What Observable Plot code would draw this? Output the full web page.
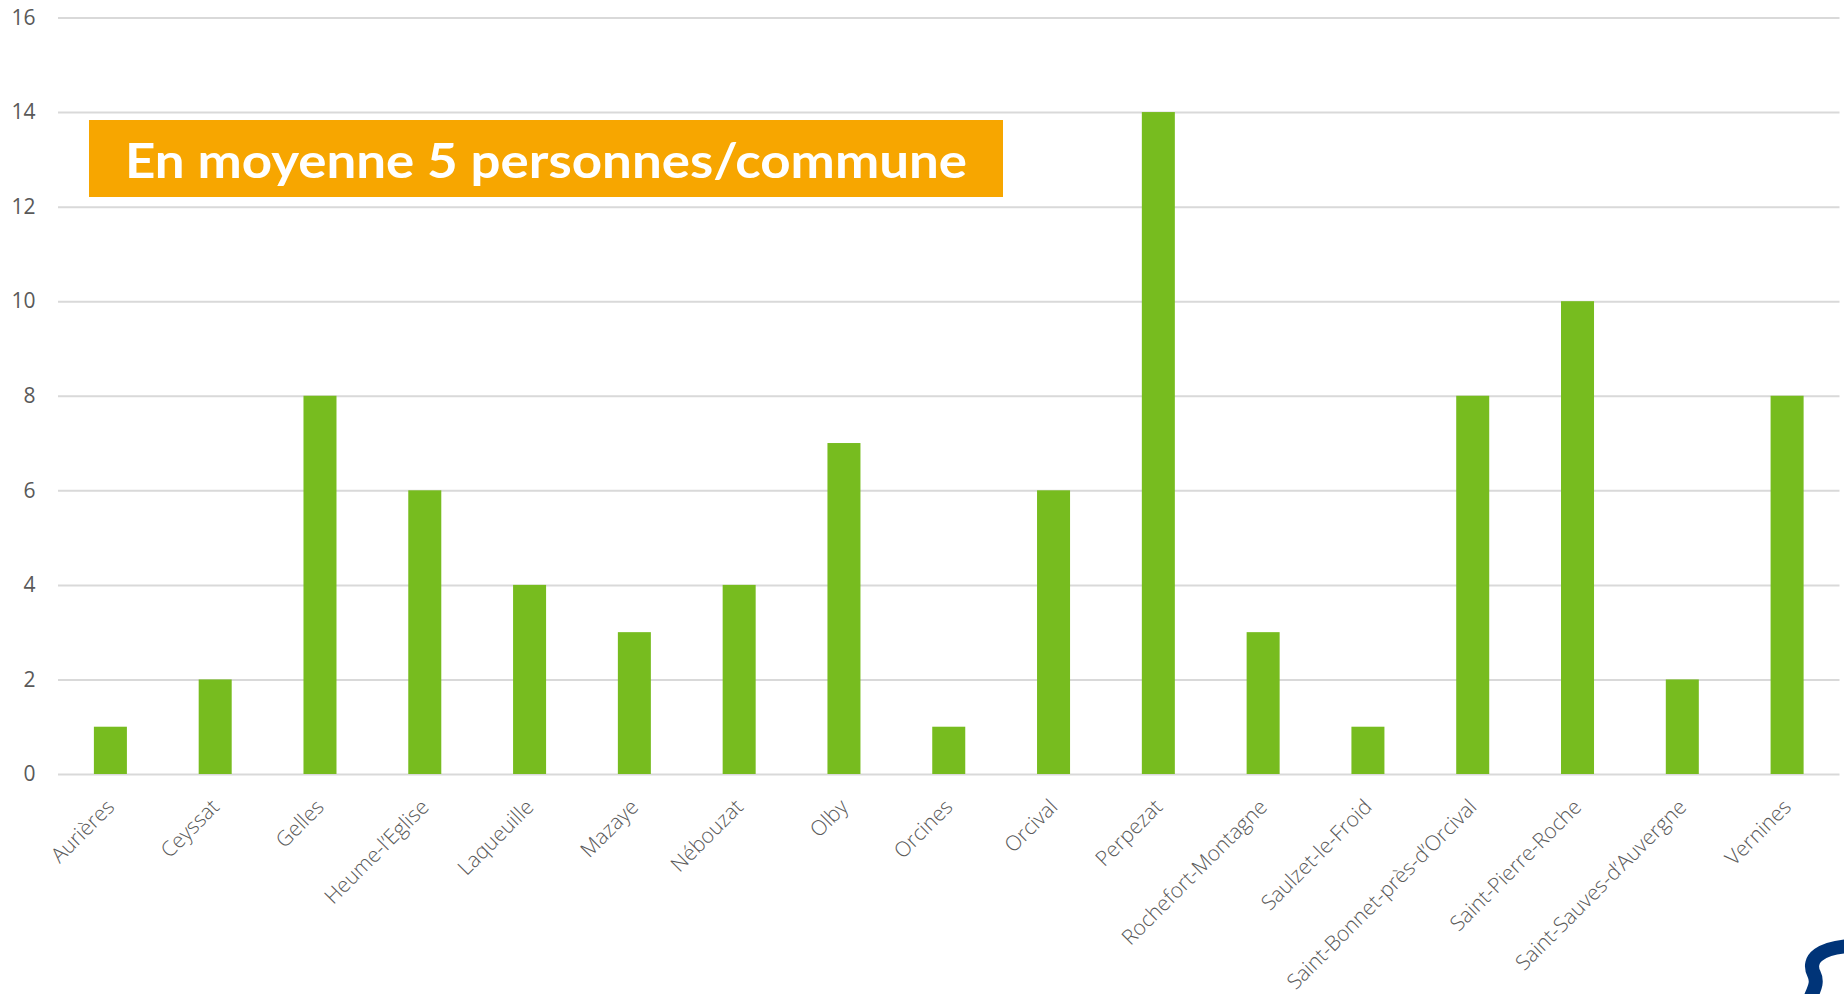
<!DOCTYPE html>
<html>
<head>
<meta charset="utf-8">
<script src="https://cdn.jsdelivr.net/npm/d3@7"></script>
<script src="https://cdn.jsdelivr.net/npm/@observablehq/plot@0.6"></script>
<style>
  html, body { margin: 0; padding: 0; background: #fff; }
  #chart { width: 1844px; height: 994px; overflow: hidden; }
</style>
</head>
<body>
<div id="chart"></div>
<script>
const communes = ["Aurières", "Ceyssat", "Gelles", "Heume-l’Eglise", "Laqueuille", "Mazaye", "Nébouzat", "Olby", "Orcines", "Orcival", "Perpezat", "Rochefort-Montagne", "Saulzet-le-Froid", "Saint-Bonnet-près-d’Orcival", "Saint-Pierre-Roche", "Saint-Sauves-d’Auvergne", "Vernines"];
const personnes = [1, 2, 8, 6, 4, 3, 4, 7, 1, 6, 14, 3, 1, 8, 10, 2, 8];
const yTicks = [0, 2, 4, 6, 8, 10, 12, 14, 16];
const bannerText = "En moyenne 5 personnes/commune";

const data = communes.map((c, i) => ({commune: c, value: personnes[i]}));

const W = 1844, H = 994;
const plot = Plot.plot({
  width: W,
  height: H,
  marginLeft: 58,
  marginRight: 4.5,
  marginTop: 17.5,
  marginBottom: 220,
  style: {fontFamily: "'Open Sans', sans-serif", background: "#fff", overflow: "visible"},
  x: {domain: communes, paddingInner: 0.685, paddingOuter: 0.3425, round: false, label: null},
  y: {domain: [0, 16], label: null},
  marks: [
    Plot.gridY(yTicks, {stroke: "#d9d9d9", strokeOpacity: 1, strokeWidth: 2}),
    Plot.barY(data, {x: "commune", y: "value", fill: "#77bc1f"}),
    Plot.axisY(yTicks, {tickSize: 0, tickPadding: 23, fontSize: 21, fill: "#595959", label: null}),
    Plot.axisX({tickSize: 0, tickPadding: 29, tickRotate: -45, fontSize: 21, fill: "#595959", fontWeight: 300, label: null, dx: 0})
  ]
});
document.getElementById("chart").appendChild(plot);

const svg = d3.select(plot);
const g = svg.append("g").attr("text-anchor", "start");
g.append("rect").attr("x", 89).attr("y", 120).attr("width", 914).attr("height", 77).attr("fill", "#f7a600");
g.append("text").attr("x", 125).attr("y", 178)
  .attr("text-anchor", "start")
  .attr("fill", "#fff").attr("font-family", "Lato, 'Open Sans', sans-serif")
  .attr("font-weight", 700).attr("font-size", 48)
  .attr("textLength", 842).attr("lengthAdjust", "spacingAndGlyphs")
  .text(bannerText);
// partial logo swoosh in the bottom-right corner
g.append("path")
  .attr("d", "M 1850 946 C 1822 948, 1806 958, 1814 974 C 1819 984, 1812 992, 1809 1002")
  .attr("fill", "none").attr("stroke", "#003478").attr("stroke-width", 14);
</script>
</body>
</html>
